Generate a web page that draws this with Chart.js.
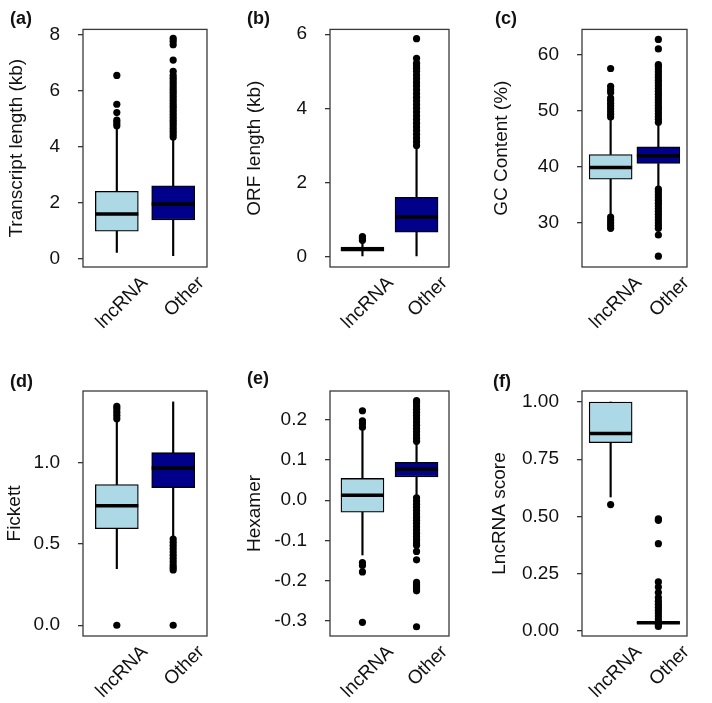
<!DOCTYPE html>
<html>
<head>
<meta charset="utf-8">
<script src="https://cdn.jsdelivr.net/npm/chart.js@4.4.1/dist/chart.umd.min.js"></script>
<style>
	body { margin: 0; background: #fff; }
	#figure { position: relative; width: 712px; height: 703px; }
	canvas { position: absolute; }
	.tag { position: absolute; font: bold 18px 'Liberation Sans', Arial, sans-serif; line-height: 18px; color: #111; }
</style>
</head>
<body>
<div id="figure">
	<canvas id="panelA" width="237" height="351" style="left:0px;top:0px"></canvas>
	<canvas id="panelB" width="237" height="351" style="left:237px;top:0px"></canvas>
	<canvas id="panelC" width="237" height="351" style="left:475px;top:0px"></canvas>
	<canvas id="panelD" width="237" height="351" style="left:0px;top:352px"></canvas>
	<canvas id="panelE" width="237" height="351" style="left:237px;top:352px"></canvas>
	<canvas id="panelF" width="237" height="351" style="left:475px;top:352px"></canvas>
	<div class="tag" style="left:10px;top:9px">(a)</div>
	<div class="tag" style="left:247px;top:9px">(b)</div>
	<div class="tag" style="left:495px;top:9px">(c)</div>
	<div class="tag" style="left:10px;top:372px">(d)</div>
	<div class="tag" style="left:247px;top:369px">(e)</div>
	<div class="tag" style="left:493px;top:372px">(f)</div>
</div>
<script>
const categories = ['lncRNA', 'Other'];

// box stats per category: [low whisker, q1, median, q3, high whisker]
const transcriptStats = [[0.21, 0.97, 1.59, 2.40, 4.65], [0.1, 1.38, 1.95, 2.60, 4.3]];
const transcriptOutLnc = [4.75, 4.85, 4.95, 5.22, 5.52, 6.55];
const transcriptOutOther = [4.35, 4.45, 4.55, 4.65, 4.75, 4.85, 4.95, 5.05, 5.15, 5.25, 5.35, 5.45, 5.55, 5.65, 5.75, 5.85, 5.95, 6.05, 6.15, 6.25, 6.35, 6.45, 6.55, 6.7, 7.1, 7.65, 7.78, 7.88];
const transcriptTicks = [0, 2, 4, 6, 8];

const orfStats = [[0.0, 0.15, 0.20, 0.26, 0.37], [0.0, 0.66, 1.07, 1.60, 2.95]];
const orfOutLnc = [0.44, 0.48, 0.51, 0.54];
const orfOutOther = [3.0, 3.1, 3.2, 3.3, 3.4, 3.5, 3.6, 3.7, 3.8, 3.9, 4.0, 4.1, 4.2, 4.3, 4.4, 4.5, 4.6, 4.7, 4.8, 4.9, 5.0, 5.08, 5.15, 5.22, 5.35, 5.88];
const orfTicks = [0, 2, 4, 6];

const gcStats = [[31.5, 37.8, 39.9, 42.2, 48.5], [36.3, 40.6, 42.0, 43.6, 47.8]];
const gcOutLnc = [48.9, 49.4, 49.9, 50.4, 50.9, 51.4, 51.9, 52.3, 53.3, 53.8, 54.4, 57.6, 31.0, 30.5, 30.0, 29.5, 29.0];
const gcOutOther = [48.0, 48.5, 49.0, 49.5, 50.0, 50.5, 51.0, 51.5, 52.0, 52.5, 53.0, 53.5, 54.0, 54.5, 55.0, 55.5, 56.0, 56.5, 57.0, 57.5, 58.0, 58.3, 61.1, 62.8,
	36.0, 35.5, 35.0, 34.5, 34.0, 33.5, 33.0, 32.5, 32.0, 31.5, 31.0, 30.5, 30.0, 29.5, 29.0, 27.8, 24.0];
const gcTicks = [30, 40, 50, 60];

const fickettStats = [[0.348, 0.594, 0.734, 0.865, 1.26], [0.54, 0.846, 0.967, 1.061, 1.373]];
const fickettOutLnc = [1.27, 1.29, 1.31, 1.33, 1.345, 0.0];
const fickettOutOther = [0.53, 0.51, 0.49, 0.47, 0.45, 0.43, 0.41, 0.39, 0.37, 0.355, 0.34, 0.0];
const fickettTicks = [0, 0.5, 1.0];

const hexamerStats = [[-0.136, -0.030, 0.012, 0.054, 0.176], [0.011, 0.058, 0.077, 0.094, 0.139]];
const hexamerOutLnc = [0.181, 0.19, 0.197, 0.222, -0.155, -0.162, -0.178, -0.303];
const hexamerOutOther = [0.146, 0.154, 0.162, 0.170, 0.178, 0.186, 0.194, 0.202, 0.210, 0.218, 0.226, 0.234, 0.242, 0.247,
	0.006, -0.002, -0.010, -0.018, -0.026, -0.034, -0.042, -0.050, -0.058, -0.066, -0.074, -0.082, -0.090, -0.098, -0.106, -0.112,
	-0.127, -0.148, -0.204, -0.209, -0.214, -0.219, -0.225, -0.314];
const hexamerTicks = [-0.3, -0.2, -0.1, 0, 0.1, 0.2];

const scoreStats = [[0.585, 0.822, 0.862, 1.0, 1.0], [0.031, 0.033, 0.036, 0.039, 0.041]];
const scoreOutLnc = [0.552];
const scoreOutOther = [0.49, 0.483, 0.381, 0.214, 0.192, 0.168, 0.146, 0.13, 0.117, 0.104, 0.091, 0.078, 0.065, 0.052, 0.04, 0.028, 0.02];
const scoreTicks = [0, 0.25, 0.5, 0.75, 1.0];

const FONT = "'Liberation Sans', Arial, sans-serif";

const frame = {
	id: 'frame',
	afterDatasetsDraw(chart) {
		const {ctx, chartArea: a} = chart;
		ctx.save();
		ctx.strokeStyle = '#3a3a3a';
		ctx.lineWidth = 1.3;
		ctx.strokeRect(a.left, a.top, a.right - a.left, a.bottom - a.top);
		ctx.restore();
	}
};

function box_chart(id, stats, outliers, range, ticks, decimals, title, geom) {
	const at = (i, v) => ({x: i + 1, y: v});
	const points = [];
	outliers.forEach((list, i) => list.forEach(v => points.push(at(i, v))));

	new Chart(document.getElementById(id), {
		type: 'bar',
		data: {
			datasets: [
				{
					type: 'line',
					data: points,
					showLine: false,
					pointRadius: 3.6,
					pointBorderWidth: 0,
					pointBackgroundColor: '#000',
				},
				{
					type: 'line',
					data: stats.map((s, i) => at(i, s[2])),
					showLine: false,
					pointStyle: 'line',
					pointRadius: 21.5,
					pointBorderWidth: 3.5,
					pointBorderColor: '#000',
				},
				{
					data: stats.map((s, i) => at(i, [s[1], s[3]])),
					backgroundColor: ['#ADD8E6', '#00008B'],
					borderColor: '#000',
					borderWidth: 1.3,
					borderSkipped: false,
					barThickness: 43,
					grouped: false,
				},
				{
					data: stats.map((s, i) => at(i, [s[0], s[1]])),
					backgroundColor: '#000',
					barThickness: 1.5,
					grouped: false,
				},
				{
					data: stats.map((s, i) => at(i, [s[3], s[4]])),
					backgroundColor: '#000',
					barThickness: 1.5,
					grouped: false,
				},
			]
		},
		options: {
			responsive: false,
			animation: false,
			layout: {
				padding: { top: geom.top, right: geom.right, bottom: 0, left: 0 }
			},
			scales: {
				x: {
					type: 'linear',
					offset: false,
					min: 0.4,
					max: 2.6,
					afterBuildTicks: s => { s.ticks = categories.map((c, i) => ({value: i + 1})); },
					afterFit: s => { s.height = geom.xh; },
					grid: { display: false, offset: false },
					border: { display: false },
					ticks: {
						autoSkip: false,
						minRotation: 45,
						maxRotation: 45,
						labelOffset: 28,
						padding: -3,
						color: '#111',
						font: { size: 19, family: FONT },
						callback: v => categories[v - 1],
					}
				},
				y: {
					min: range[0],
					max: range[1],
					afterBuildTicks: s => { s.ticks = ticks.map(v => ({value: v})); },
					afterFit: s => { s.width = geom.yw; },
					grid: {
						drawOnChartArea: false,
						tickLength: 5,
						color: '#333',
						lineWidth: 1.3,
					},
					border: { display: false },
					ticks: {
						padding: 18,
						color: '#111',
						font: { size: 19, family: FONT },
						callback: v => v.toFixed(decimals),
					},
					title: {
						display: true,
						text: title,
						color: '#111',
						font: { size: 19, family: FONT },
						padding: { top: geom.tp, bottom: 0 },
					}
				}
			},
			plugins: {
				legend: { display: false },
				tooltip: { enabled: false },
			}
		},
		plugins: [frame]
	});
}

box_chart('panelA', transcriptStats, [transcriptOutLnc, transcriptOutOther], [-0.31, 8.2], transcriptTicks, 0,
	'Transcript length (kb)', { top: 22, right: 30, xh: 84, yw: 83, tp: 5.6 });
box_chart('panelB', orfStats, [orfOutLnc, orfOutOther], [-0.28, 6.13], orfTicks, 0,
	'ORF length (kb)', { top: 22, right: 21, xh: 84, yw: 93, tp: 6.6 });
box_chart('panelC', gcStats, [gcOutLnc, gcOutOther], [22.07, 64.6], gcTicks, 0,
	'GC Content (%)', { top: 22, right: 6, xh: 84, yw: 107, tp: 15.6 });
box_chart('panelD', fickettStats, [fickettOutLnc, fickettOutOther], [-0.066, 1.44], fickettTicks, 1,
	'Fickett', { top: 39, right: 30, xh: 67, yw: 83, tp: 3.6 });
box_chart('panelE', hexamerStats, [hexamerOutLnc, hexamerOutOther], [-0.337, 0.271], hexamerTicks, 1,
	'Hexamer', { top: 39, right: 21, xh: 67, yw: 93, tp: 6.6 });
box_chart('panelF', scoreStats, [scoreOutLnc, scoreOutOther], [-0.022, 1.048], scoreTicks, 2,
	'LncRNA score', { top: 39, right: 6, xh: 67, yw: 107, tp: 13.6 });
</script>
</body>
</html>
